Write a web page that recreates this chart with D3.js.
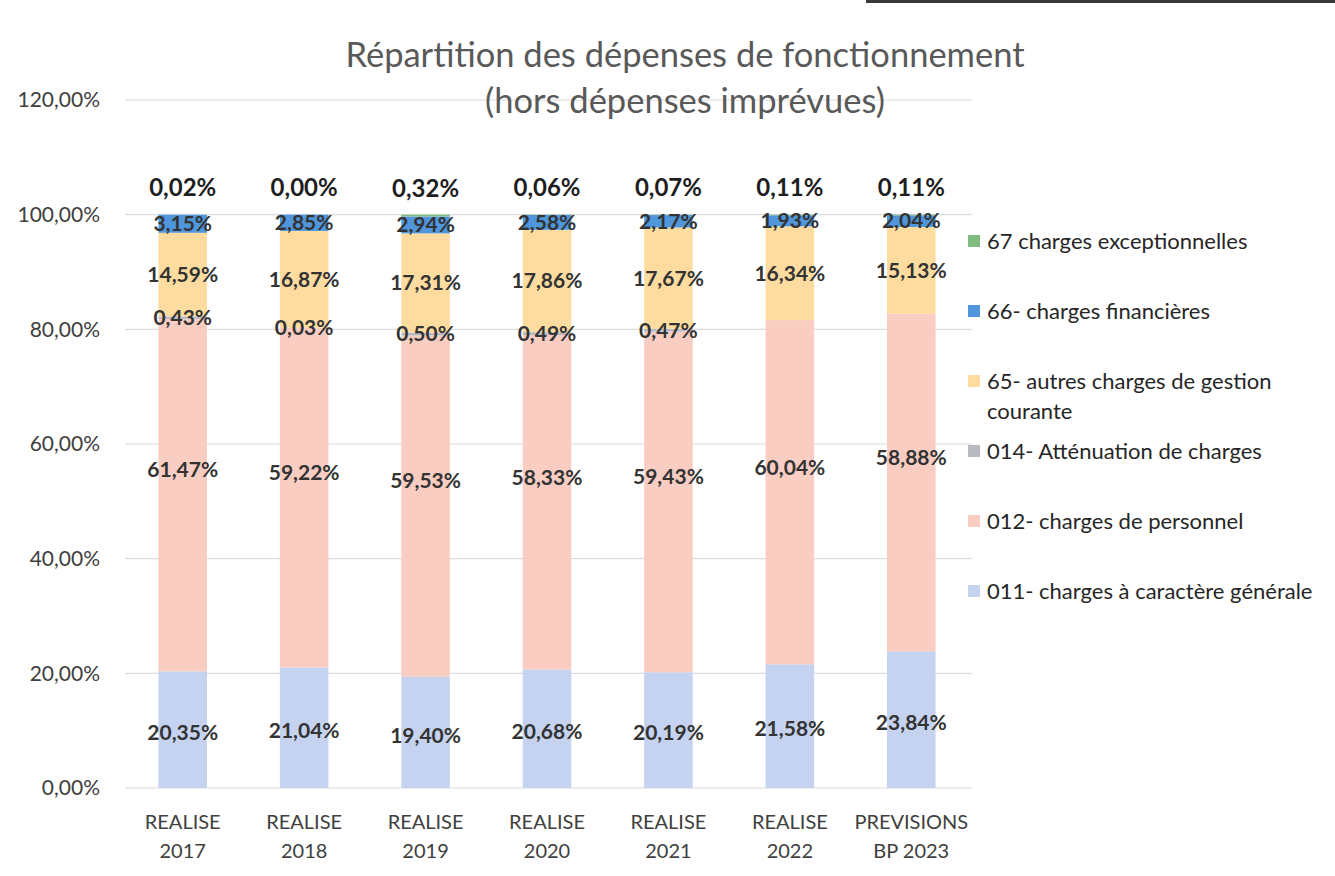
<!DOCTYPE html>
<html><head><meta charset="utf-8">
<script src="https://cdn.jsdelivr.net/npm/d3@7"></script>
<style>body{margin:0;background:#fff}</style>
</head><body>
<svg id="chart" width="1335" height="876"></svg>
<script>
const categories = [["REALISE","2017"],["REALISE","2018"],["REALISE","2019"],["REALISE","2020"],["REALISE","2021"],["REALISE","2022"],["PREVISIONS","BP 2023"]];
const seriesNames = ["011- charges à caractère générale","012- charges de personnel","014- Atténuation de charges","65- autres charges de gestion courante","66- charges financières","67 charges exceptionnelles"];
const s011 = [20.35,21.04,19.40,20.68,20.19,21.58,23.84];
const s012 = [61.47,59.22,59.53,58.33,59.43,60.04,58.88];
const s014 = [0.43,0.03,0.50,0.49,0.47,null,null];
const s65  = [14.59,16.87,17.31,17.86,17.67,16.34,15.13];
const s66  = [3.15,2.85,2.94,2.58,2.17,1.93,2.04];
const s67  = [0.02,0.00,0.32,0.06,0.07,0.11,0.11];
const yTicks = [0,20,40,60,80,100,120];
const titleLines = ["Répartition des dépenses de fonctionnement","(hors dépenses imprévues)"];

const colors = ["#c5d3f1","#f9cdc2","#b9b9c2","#fedc9f","#4f96dc","#80bb80"];
const labelDy = [3,-25,0,0,0,-27];
const values = [s011,s012,s014,s65,s66,s67];

const svg = d3.select("#chart");
const FONT = "Lato, 'Open Sans', sans-serif";

// scan artifact bar at top
svg.append("rect").attr("x",866).attr("y",0).attr("width",469).attr("height",3).attr("fill","#3a3a3a");

const x = d3.scaleBand().domain(d3.range(categories.length)).range([122,972]).paddingInner(0.6).paddingOuter(0.3);
const y = d3.scaleLinear().domain([0,120]).range([788,100]);

// gridlines
svg.append("g").selectAll("line").data(yTicks).join("line")
  .attr("x1",125).attr("x2",972).attr("y1",d=>y(d)).attr("y2",d=>y(d))
  .attr("stroke","#dcdcdc").attr("stroke-width",1.2);

// y axis labels
const fmt = v => d3.format(".2f")(v).replace(".",",") + "%";
svg.append("g").selectAll("text").data(yTicks).join("text")
  .attr("x",100).attr("y",d=>y(d)).attr("dy","0.35em").attr("text-anchor","end")
  .attr("font-family",FONT).attr("font-size",21).attr("fill","#404040")
  .text(d=>fmt(d));

// stack
const rows = categories.map((c,i)=>{const o={i}; values.forEach((s,k)=>o[k]=s[i]==null?0:s[i]); return o;});
const stack = d3.stack().keys(d3.range(values.length))(rows);

const bars = svg.append("g");
stack.forEach((layer,k)=>{
  bars.append("g").attr("fill",colors[k]).selectAll("rect").data(layer).join("rect")
    .attr("x",d=>x(d.data.i)).attr("width",x.bandwidth())
    .attr("y",d=>y(d[1])).attr("height",d=>Math.max(0,y(d[0])-y(d[1])));
});

// data labels
stack.forEach((layer,k)=>{
  svg.append("g").selectAll("text").data(layer.filter(d=>values[k][d.data.i]!=null)).join("text")
    .attr("x",d=>x(d.data.i)+x.bandwidth()/2)
    .attr("y",d=>y((d[0]+d[1])/2)+labelDy[k])
    .attr("dy","0.35em").attr("text-anchor","middle")
    .attr("font-family",FONT).attr("font-weight","bold")
    .attr("font-size",k===5?24:21)
    .attr("fill",k===5?"#1e1e1e":"#333")
    .text(d=>fmt(values[k][d.data.i]));
});

// x labels
const xl = svg.append("g").selectAll("text").data(categories.map((c,i)=>({c,i}))).join("text")
  .attr("x",d=>x(d.i)+x.bandwidth()/2).attr("y",822).attr("text-anchor","middle")
  .attr("font-family",FONT).attr("font-size",20).attr("fill","#404040");
xl.each(function(d){
  const t=d3.select(this);
  d.c.forEach((line,j)=>t.append("tspan").attr("x",x(d.i)+x.bandwidth()/2).attr("dy",j===0?"0.35em":"1.45em").text(line));
});

// title
svg.append("g").selectAll("text").data(titleLines).join("text")
  .attr("x",685).attr("y",(d,i)=>55+i*46).attr("dy","0.35em").attr("text-anchor","middle")
  .attr("font-family",FONT).attr("font-size",34.5).attr("fill","#595959").text(d=>d);

// legend
const legendItems = [
  {k:5, lines:["67 charges exceptionnelles"], y:241},
  {k:4, lines:["66- charges financières"], y:311},
  {k:3, lines:["65- autres charges de gestion","courante"], y:381},
  {k:2, lines:["014- Atténuation de charges"], y:451},
  {k:1, lines:["012- charges de personnel"], y:521},
  {k:0, lines:["011- charges à caractère générale"], y:591}
];
const lg = svg.append("g").selectAll("g").data(legendItems).join("g");
lg.append("rect").attr("x",968).attr("y",d=>d.y-6).attr("width",12).attr("height",12).attr("fill",d=>colors[d.k]);
lg.append("text").attr("font-family",FONT).attr("font-size",22).attr("fill","#262626")
  .each(function(d){
    const t=d3.select(this);
    d.lines.forEach((line,j)=>t.append("tspan").attr("x",987).attr("y",d.y+j*30).attr("dy","0.35em").text(line));
  });
</script>
</body></html>
